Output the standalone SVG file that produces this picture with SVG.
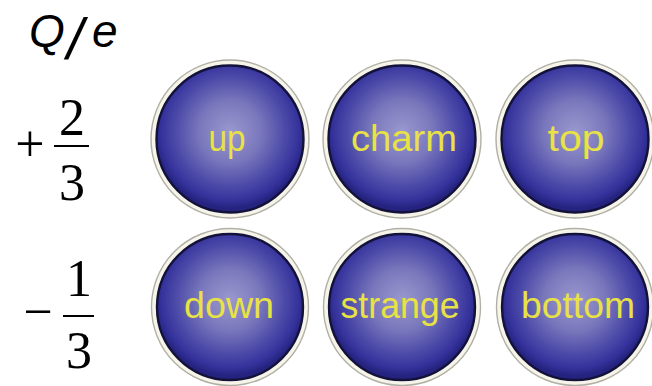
<svg xmlns="http://www.w3.org/2000/svg" width="652" height="386" viewBox="0 0 652 386">
  <style>
    .ring { fill: #f7f5ea; stroke: #b0b0a6; stroke-width: 1.4; }
    .ball { fill: url(#ballGrad); stroke: #12123a; stroke-width: 2.4; }
    .lbl { font-family: "Liberation Sans", Arial, sans-serif; font-size: 36px; fill: #e8e244; text-anchor: middle; }
    .num { font-family: "Liberation Serif", "Times New Roman", serif; font-size: 52px; fill: #000; text-anchor: middle; }
    .qe { font-family: "Liberation Sans", Arial, sans-serif; font-style: italic; font-size: 46px; fill: #000; }
    .bar { stroke: #000; stroke-width: 2; }
  </style>
  <defs>
    <radialGradient id="ballGrad" cx="50%" cy="45%" r="52%">
      <stop offset="0" stop-color="#9a98ce"/>
      <stop offset="0.4" stop-color="#7a78bc"/>
      <stop offset="0.72" stop-color="#4c4aa8"/>
      <stop offset="0.9" stop-color="#35339c"/>
      <stop offset="1" stop-color="#25237f"/>
    </radialGradient>
  </defs>
  <rect width="652" height="386" fill="#ffffff"/>

  <g id="axis-label">
    <text class="qe" x="29" y="47">Q<tspan x="67" y="59" font-size="58">/</tspan><tspan x="92" y="47">e</tspan></text>
  </g>

  <g id="charge-plus-two-thirds">
    <text class="num" x="30" y="161">+</text>
    <text class="num" x="72" y="135">2</text>
    <line class="bar" x1="54" y1="146" x2="89" y2="146"/>
    <text class="num" x="72" y="200">3</text>
  </g>

  <g id="charge-minus-one-third">
    <text class="num" x="38" y="329">−</text>
    <text class="num" x="79" y="296">1</text>
    <line class="bar" x1="63" y1="316" x2="94" y2="316"/>
    <text class="num" x="79" y="368">3</text>
  </g>

  <g id="connectors"></g>

  <g id="up">
    <circle class="ring" cx="230" cy="139" r="79"/>
    <circle class="ball" cx="230" cy="139" r="73.5"/>
    <text class="lbl" x="227" y="151" textLength="37" lengthAdjust="spacingAndGlyphs">up</text>
  </g>
  <g id="charm">
    <circle class="ring" cx="402" cy="139" r="79"/>
    <circle class="ball" cx="402" cy="139" r="73.5"/>
    <text class="lbl" x="404" y="151" textLength="106" lengthAdjust="spacingAndGlyphs">charm</text>
  </g>
  <g id="top">
    <circle class="ring" cx="575" cy="139" r="79"/>
    <circle class="ball" cx="575" cy="139" r="73.5"/>
    <text class="lbl" x="576" y="151" textLength="57" lengthAdjust="spacingAndGlyphs">top</text>
  </g>
  <g id="down">
    <circle class="ring" cx="230" cy="307" r="78.5"/>
    <circle class="ball" cx="230" cy="307" r="73"/>
    <text class="lbl" x="229" y="318" textLength="90" lengthAdjust="spacingAndGlyphs">down</text>
  </g>
  <g id="strange">
    <circle class="ring" cx="402" cy="307" r="78.5"/>
    <circle class="ball" cx="402" cy="307" r="73"/>
    <text class="lbl" x="400" y="318" textLength="119" lengthAdjust="spacingAndGlyphs">strange</text>
  </g>
  <g id="bottom">
    <circle class="ring" cx="575" cy="307" r="78.5"/>
    <circle class="ball" cx="575" cy="307" r="73"/>
    <text class="lbl" x="578" y="318" textLength="114" lengthAdjust="spacingAndGlyphs">bottom</text>
  </g>
</svg>
